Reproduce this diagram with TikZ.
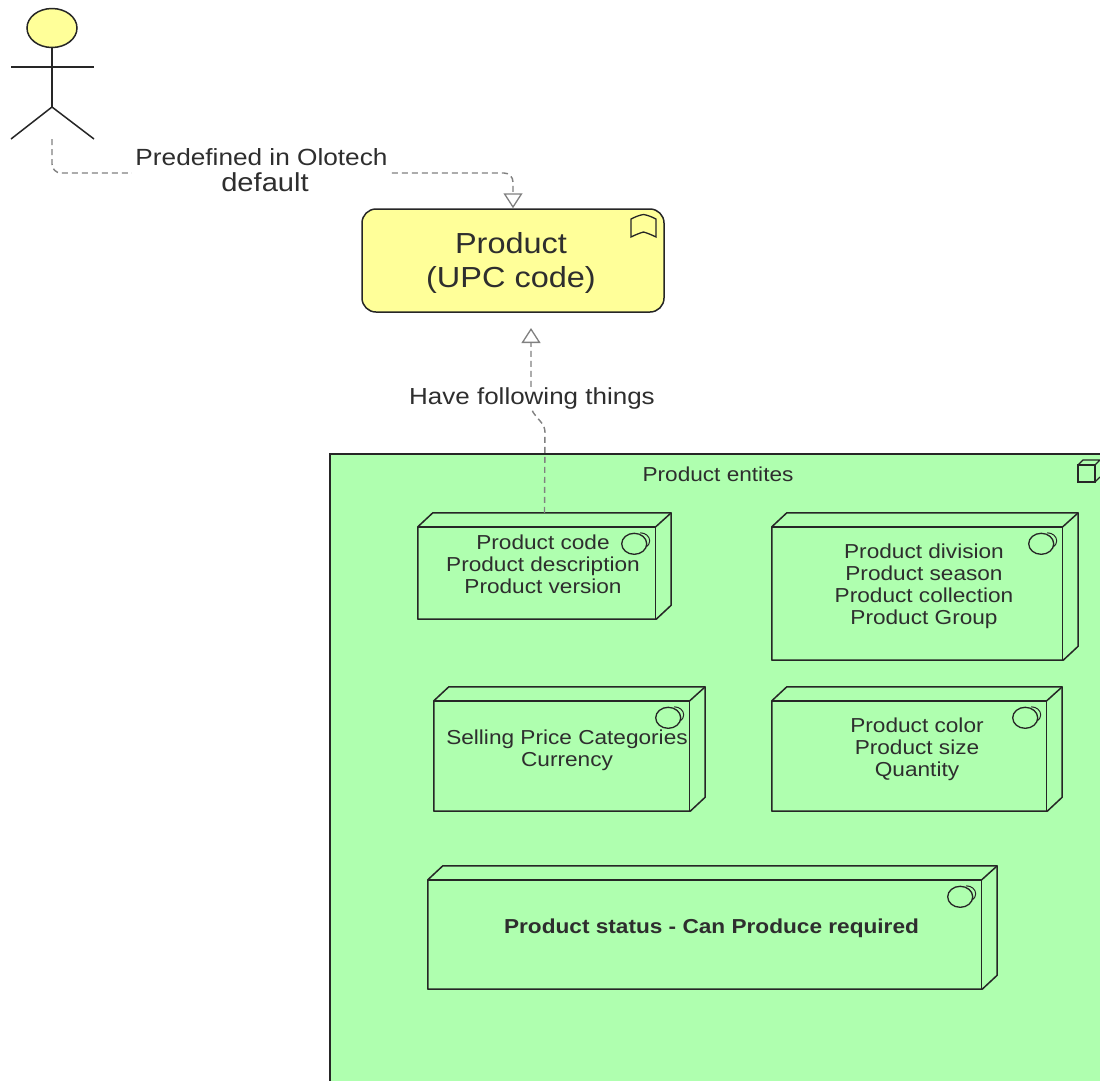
\documentclass[tikz,border=0pt]{standalone}
\usepackage{fontspec}
\setmainfont[FakeStretch=1.12]{Liberation Sans}
\usetikzlibrary{arrows.meta,shapes.geometric}
\definecolor{actyellow}{HTML}{FFFF99}
\definecolor{nodegreen}{HTML}{AFFFAF}
\definecolor{linkgray}{HTML}{808080}
\definecolor{inktext}{HTML}{2E2E2E}
\tikzset{
  boxline/.style={draw=black!85,line width=1.5pt},
  devbox/.style={inner sep=0pt},
  devtext/.style={inner sep=0pt,align=center,text=inktext,font=\fontsize{20.2}{22}\selectfont},
  linkline/.style={draw=linkgray,line width=1.4pt,dash pattern=on 6pt off 4pt,
    -{Triangle[open,length=15pt,width=19pt,line width=1.3pt]}},
  linklabel/.style={fill=white,inner xsep=3pt,inner ysep=1pt,align=center,text=inktext}
}
\begin{document}
\begin{tikzpicture}[x=1pt,y=-1pt]
\clip (0,0) rectangle (1100,1080);
\fill[white] (0,0) rectangle (1100,1080);

% container
\node[boxline,fill=nodegreen,minimum width=780pt,minimum height=640pt,inner sep=0pt] (entities) at (720,774) {};
\node[devtext] (entitieslabel) at (718,474) {Product entites};
\draw[boxline,line width=1.2pt] (1078,465) rectangle (1095,482);
\draw[boxline,line width=1.2pt] (1078,465) -- (1083,460) -- (1100,460) (1095,465) -- (1100,460) (1095,482) -- (1100,477);

% boxes
\foreach \nm/\cx/\cy/\w/\h/\dx/\dy/\txt in {
  code/544.5/566/253/106/-1.5/-2/{Product code\\Product description\\Product version},
  division/925/586.5/306/147/-1/0/{Product division\\Product season\\Product collection\\Product Group},
  price/569.5/749/271/124/-2.5/1/{Selling Price Categories\\Currency},
  color/917/749/290/124/0/0/{Product color\\Product size\\Quantity},
  status/712.5/927.5/569/123/-1/1/{\bfseries Product status - Can Produce required}} {
  \node[devbox,minimum width=\w pt,minimum height=\h pt] (\nm) at (\cx,\cy) {};
  \node[devtext] (\nm text) at (\cx+\dx,\cy+\dy) {\txt};
  \draw[boxline,line join=round] ([yshift=-14pt]\nm.north west) -- ([xshift=15pt]\nm.north west) -- (\nm.north east)
    -- ([yshift=14pt]\nm.south east) -- ([xshift=-15pt]\nm.south east) -- (\nm.south west) -- cycle;
  \draw[boxline] ([yshift=-14pt]\nm.north west) -- ([xshift=-15.5pt,yshift=-14pt]\nm.north east) -- ([xshift=-15.5pt]\nm.south east);
  \draw[boxline] ([xshift=-15.5pt,yshift=-14pt]\nm.north east) -- (\nm.north east);
  \draw[boxline,line width=1.3pt] ([xshift=-37pt,yshift=-31pt]\nm.north east) ellipse (12.5pt and 10.5pt);
  \draw[boxline,line width=1pt] ([xshift=-31pt,yshift=-20pt]\nm.north east) arc (90:-50:9.5pt and 8pt);
}

% actor
\node[boxline,fill=actyellow,ellipse,minimum width=50pt,minimum height=39pt,inner sep=0pt] (head) at (52,28) {};
\coordinate (hip) at (52,107);
\coordinate (actorfoot) at (52,139);
\draw[boxline] (head.south) -- (hip);
\draw[boxline] (11,67) -- (94,67);
\draw[boxline] (11,139) -- (hip) -- (94,139);

% element
\node[boxline,fill=actyellow,rounded corners=14pt,minimum width=302pt,minimum height=103pt,inner sep=0pt] (product) at (513,260.5) {};
\node[inner sep=0pt,align=center,text=inktext,font=\fontsize{29}{34}\selectfont] (producttext) at (511,262.5) {Product\\(UPC code)};
\draw[boxline,line width=1.3pt] (631,219) .. controls (636,216.5) and (640,215) .. (643.5,214.5) .. controls (647,215) and (651,216.5) .. (656,219) -- (656,237) .. controls (651,234.5) and (647,233) .. (643.5,232) .. controls (640,233) and (636,234.5) .. (631,237) -- cycle;

% connectors
\coordinate (bendtop) at (513,173);
\coordinate (bendhigh) at (531,410);
\coordinate (bendlow) at (545,427);
\coordinate (productin) at (531,328);
\draw[linkline,rounded corners=9pt] (actorfoot) |- (bendtop) -- (product.north);
\draw[linkline,rounded corners=5pt] (code.north) -- (bendlow) -- (bendhigh) -- (productin);
\node[linklabel,font=\fontsize{23.4}{26}\selectfont] (predefined) at (261.5,170.5) {Predefined in Olotech\\\hspace*{7pt}{\fontsize{26}{27}\selectfont default}};
\node[linklabel,font=\fontsize{23.2}{26}\selectfont] (following) at (532,398.5) {Have following things};
\end{tikzpicture}
\end{document}
